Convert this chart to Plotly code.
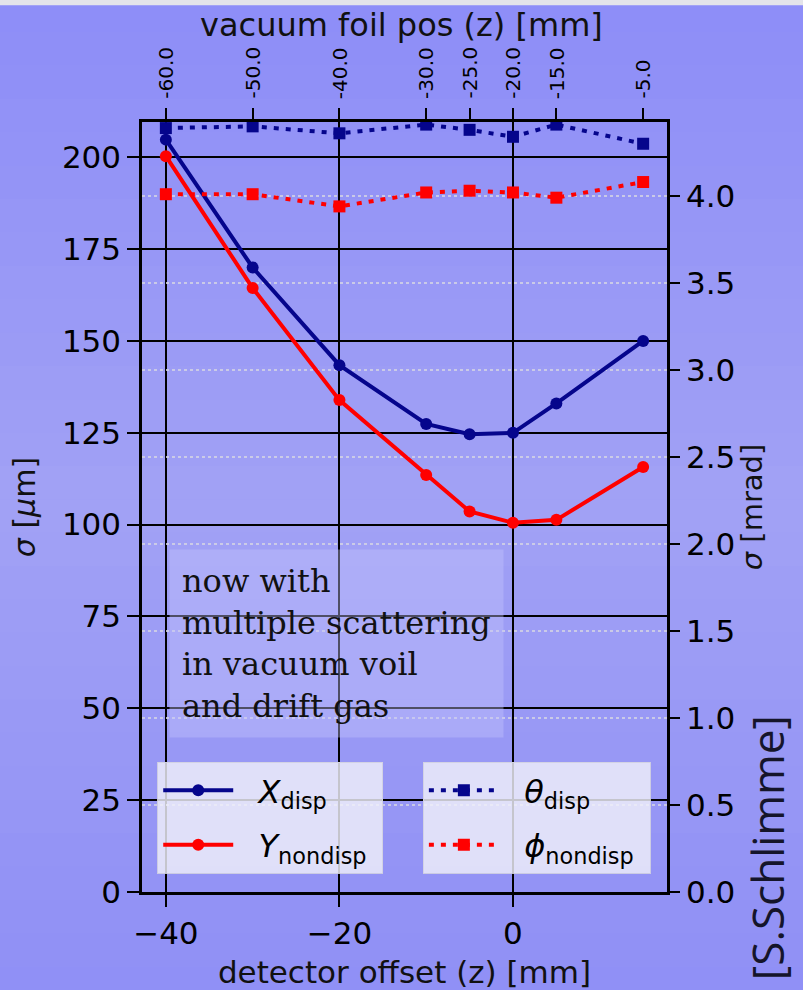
import plotly.graph_objects as go

# ---- data ----
offset_z = [-40, -30, -20, -10, -5, 0, 5, 15]
foil_labels = ["-60.0", "-50.0", "-40.0", "-30.0", "-25.0", "-20.0", "-15.0", "-5.0"]
x_disp = [204.8, 170.0, 143.4, 127.4, 124.6, 125.0, 133.0, 150.0]
y_nondisp = [200.3, 164.4, 133.9, 113.5, 103.6, 100.5, 101.3, 115.7]
theta_disp = [4.39, 4.40, 4.36, 4.41, 4.38, 4.34, 4.41, 4.30]
phi_nondisp = [4.01, 4.01, 3.94, 4.02, 4.03, 4.02, 3.99, 4.08]
left_ticks = [0, 25, 50, 75, 100, 125, 150, 175, 200]
right_ticks = [0.0, 0.5, 1.0, 1.5, 2.0, 2.5, 3.0, 3.5, 4.0]

NAVY = "#05058c"
RED = "#ff0000"
TICKFONT = dict(family="DejaVu Sans", size=31, color="black")
SP = "\u00a0"

fig = go.Figure()
fig.add_trace(go.Scatter(x=offset_z, y=x_disp, mode="lines+markers",
                         name=SP * 2 + "<i>X</i><sub>disp</sub>",
                         line=dict(color=NAVY, width=4),
                         marker=dict(symbol="circle", size=12, color=NAVY),
                         legend="legend", legendgroup="a"))
fig.add_trace(go.Scatter(x=offset_z, y=y_nondisp, mode="lines+markers",
                         name=SP * 2 + "<i>Y</i><sub>nondisp</sub>" + SP,
                         line=dict(color=RED, width=4),
                         marker=dict(symbol="circle", size=12, color=RED),
                         legend="legend", legendgroup="b"))
fig.add_trace(go.Scatter(x=offset_z, y=theta_disp, mode="lines+markers",
                         xaxis="x2", yaxis="y2",
                         name=SP * 2 + "<i>θ</i><sub>disp</sub>",
                         line=dict(color=NAVY, width=4, dash="5px,7px"),
                         marker=dict(symbol="square", size=12, color=NAVY),
                         legend="legend2", legendgroup="c"))
fig.add_trace(go.Scatter(x=offset_z, y=phi_nondisp, mode="lines+markers",
                         xaxis="x2", yaxis="y2",
                         name=SP * 2 + "<i>ϕ</i><sub>nondisp</sub>" + SP,
                         line=dict(color=RED, width=4, dash="5px,7px"),
                         marker=dict(symbol="square", size=12, color=RED),
                         legend="legend2", legendgroup="d"))

# background gradient bands (decorative)
shapes = []
top_c = (0x8e, 0x8e, 0xf8)
mid_c = (0xa2, 0xa2, 0xf5)
bot_c = (0x90, 0x90, 0xf6)
n = 30
y_lo, y_hi = -0.14, 1.16
for i in range(n):
    t = i / (n - 1)
    if t < 0.5:
        s = t / 0.5
        c = tuple(int(bot_c[k] + (mid_c[k] - bot_c[k]) * s) for k in range(3))
    else:
        s = (t - 0.5) / 0.5
        c = tuple(int(mid_c[k] + (top_c[k] - mid_c[k]) * s) for k in range(3))
    y0 = y_lo + (y_hi - y_lo) * i / n
    y1 = y_lo + (y_hi - y_lo) * (i + 1) / n
    shapes.append(dict(type="rect", xref="paper", yref="paper", x0=-0.3, x1=1.3,
                       y0=y0, y1=y1 + 0.002, fillcolor="rgb(%d,%d,%d)" % c,
                       line=dict(width=0), layer="below"))
shapes.append(dict(type="rect", xref="paper", yref="paper", x0=-0.3, x1=1.3,
                   y0=1.1515, y1=1.17, fillcolor="#e4e4ea", line=dict(width=0), layer="below"))

annotations = [
    dict(x=0.495, y=1.126, xref="paper", yref="paper", xanchor="center", yanchor="middle",
         text="vacuum foil pos (z) [mm]", showarrow=False,
         font=dict(family="DejaVu Sans", size=32, color="#111")),
    dict(x=-39.6, y=93.5, xref="x", yref="y", xanchor="left", yanchor="top",
         text="now with<br>multiple scattering<br>in vacuum voil<br>and drift gas",
         showarrow=False, align="left",
         font=dict(family="DejaVu Serif", size=32, color="#111"),
         bgcolor="rgba(195,195,252,0.4)", borderpad=12),
    dict(x=1.192, y=0.058, xref="paper", yref="paper", xanchor="center", yanchor="middle",
         text="[S.Schlimme]", textangle=-90, showarrow=False,
         font=dict(family="Open Sans", size=44, color="#15152a")),
]
# top-axis tick labels (rotated)
for xv, lab in zip(offset_z, foil_labels):
    annotations.append(dict(x=xv, y=1.0275, xref="x", yref="paper", xanchor="center",
                            yanchor="bottom", text=lab, textangle=-90, showarrow=False,
                            font=dict(family="DejaVu Sans", size=20, color="black")))

fig.update_layout(
    width=803, height=990,
    margin=dict(l=142, r=136, t=122, b=98),
    paper_bgcolor="#9a9af5",
    plot_bgcolor="rgba(0,0,0,0)",
    shapes=shapes,
    showlegend=True,
    xaxis=dict(range=[-42.75, 17.75], tickvals=[-40, -20, 0], ticktext=["−40", "−20", "0"],
               ticks="outside", ticklen=12, tickwidth=2, tickcolor="black", automargin=False,
               tickfont=TICKFONT, showgrid=True, gridcolor="black", gridwidth=2,
               showline=True, linecolor="black", linewidth=2.5, mirror=True, zeroline=False,
               title=dict(text="detector offset (z) [mm]", standoff=14,
                          font=dict(family="DejaVu Sans", size=31, color="#111"))),
    xaxis2=dict(range=[-42.75, 17.75], overlaying="x", side="top", anchor="y2",
                tickvals=offset_z, showticklabels=False, automargin=False,
                ticks="outside", ticklen=13, tickwidth=2, tickcolor="black",
                showgrid=False, showline=False, zeroline=False),
    yaxis=dict(range=[0, 209.6], tickvals=left_ticks, automargin=False,
               ticks="outside", ticklen=12, tickwidth=2, tickcolor="black",
               tickfont=TICKFONT, showgrid=True, gridcolor="black", gridwidth=2,
               showline=True, linecolor="black", linewidth=2.5, mirror=True, zeroline=False,
               title=dict(text="<i>σ</i> [<i>μ</i>m]", standoff=18,
                          font=dict(family="DejaVu Sans", size=30, color="#111"))),
    yaxis2=dict(range=[0, 4.425], tickvals=right_ticks, automargin=False,
                ticktext=["%.1f" % v for v in right_ticks],
                overlaying="y", side="right", anchor="x2",
                ticks="outside", ticklen=10, tickwidth=2, tickcolor="black",
                tickfont=TICKFONT, showgrid=True, gridcolor="rgba(210,210,228,0.85)",
                gridwidth=2, griddash="dot", showline=True, linecolor="black", linewidth=2.5,
                zeroline=False,
                title=dict(text="<i>σ</i> [mrad]", standoff=8,
                           font=dict(family="DejaVu Sans", size=29, color="#111"))),
    legend=dict(x=0.029, y=0.169, xanchor="left", yanchor="top",
                bgcolor="rgba(240,240,250,0.82)", bordercolor="rgba(210,210,225,0.9)",
                borderwidth=1, font=dict(family="DejaVu Sans", size=32, color="black"),
                tracegroupgap=10, itemwidth=70),
    legend2=dict(x=0.535, y=0.169, xanchor="left", yanchor="top",
                 bgcolor="rgba(240,240,250,0.82)", bordercolor="rgba(210,210,225,0.9)",
                 borderwidth=1, font=dict(family="DejaVu Sans", size=32, color="black"),
                 tracegroupgap=10, itemwidth=70),
    annotations=annotations,
)

fig.write_html("out.html")
